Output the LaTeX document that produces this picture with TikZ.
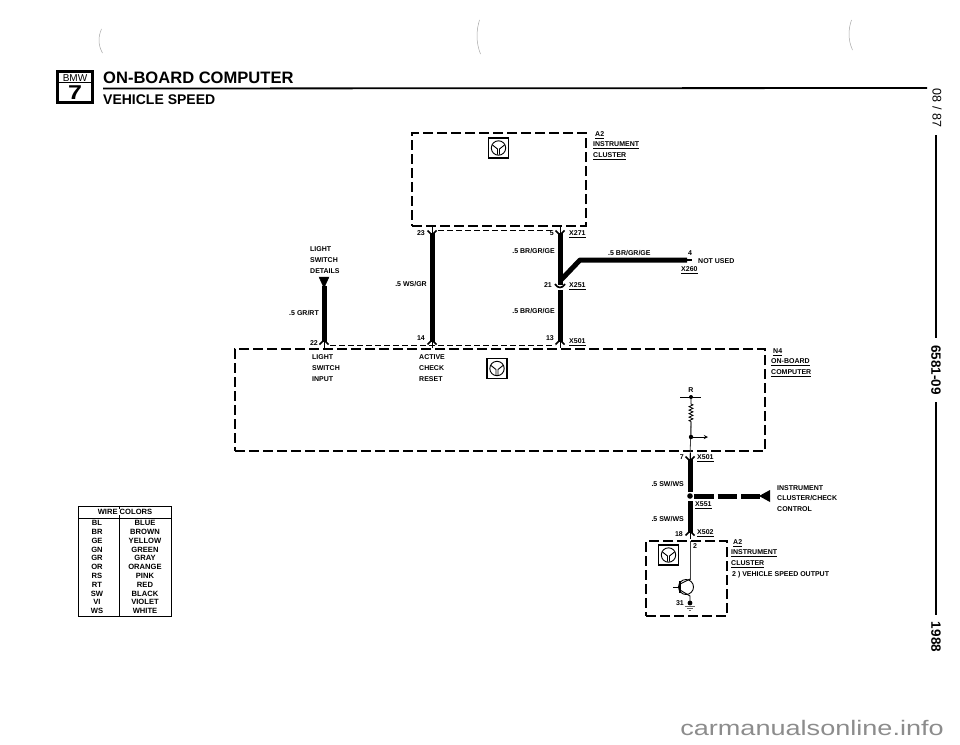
\documentclass[tikz,border=0pt]{standalone}
\usepackage{fontspec}
\setmainfont{Liberation Sans}
\usetikzlibrary{decorations.pathmorphing}
\tikzset{
	lbl/.style={inner sep=0pt, anchor=west, align=left, font=\fontsize{7}{10.7}\bfseries\selectfont},
	lblr/.style={lbl, anchor=east, align=right},
	lblc/.style={lbl, anchor=center, align=center},
	tabtxt/.style={inner sep=0pt, anchor=base, font=\fontsize{7.6}{8}\bfseries\selectfont},
	sidetxt/.style={inner sep=0pt, rotate=-90, font=\fontsize{13.5}{14}\bfseries\selectfont},
	dashbox/.style={draw, line width=1.5pt, dash pattern=on 10pt off 4pt, inner sep=0pt},
	thindash/.style={line width=0.7pt, dash pattern=on 6pt off 3pt},
	wire/.style={line width=5pt},
	thin wire/.style={line width=0.8pt, black!75},
	pinfem/.pic={
		\draw[line width=0.9pt] (0,-6) -- (0,0);
		\draw[line width=1.7pt] (-4.5,-2.5) .. controls (-2.5,0.5) .. (0,2) .. controls (2.5,0.5) .. (4.5,-2.5);
	},
	clusterico/.pic={
		\draw[line width=1.3pt] (-10,-10) rectangle (10,10);
		\draw[line width=0.9pt] (0,0) circle (7.2);
		\draw[line width=0.9pt] (-6,-3) -- (-1,1) -- (-1,6.5);
		\draw[line width=0.9pt] (6,-3) -- (1,1) -- (1,6.5);
	},
}
\begin{document}
\begin{tikzpicture}[x=1pt,y=-1pt]
	\useasboundingbox (0,0) rectangle (960,744);

	% header
	\draw[line width=3pt] (57.5,71.5) rectangle (92.5,102.5);
	\draw[line width=1pt] (59,82.5) -- (91,82.5);
	\node[inner sep=0pt, font=\fontsize{10}{10}\selectfont] (bmw) at (75,78) {BMW};
	\node[inner sep=0pt, xscale=1.25, font=\fontsize{20}{20}\bfseries\selectfont] (seven) at (75,92.5) {7};
	\node[inner sep=0pt, anchor=base west, font=\fontsize{16.55}{17}\bfseries\selectfont] (title) at (103,83.5) {ON-BOARD COMPUTER};
	\node[inner sep=0pt, anchor=base west, font=\fontsize{14}{15}\bfseries\selectfont] (subtitle) at (103,104) {VEHICLE SPEED};
	\draw[line width=1.8pt] (103,88.5) -- (927,88);

	% scan marks along the top
	\foreach \mx/\my/\mh in {100/41/12, 478/37/17, 850/35/15} {
		\draw[black!35, line width=0.5pt] (\mx+1.5,\my-\mh) .. controls (\mx-2,\my-\mh/3) and (\mx-2,\my+\mh/3) .. (\mx+2.5,\my+\mh);
	}

	% side strip
	\node[sidetxt, font=\fontsize{12.5}{13}\selectfont] (date) at (937,108) {08 / 87};
	\node[sidetxt] (code) at (936,370) {6581-09};
	\node[sidetxt] (year) at (936,637) {1988};
	\draw[line width=1.6pt] (936,135) -- (936,338);
	\draw[line width=1.6pt] (936,402) -- (936,615);

	% instrument cluster, top
	\node[dashbox, minimum width=174pt, minimum height=93pt] (a2top) at (499,179.5) {};
	\pic at (498.5,148) {clusterico};
	\node[lbl] (a2toplbl) at (595,135) {\underline{A2}};
	\node[lbl] (a2topname) at (593,150.5) {\underline{INSTRUMENT}\\\underline{CLUSTER}};

	% on-board computer
	\node[dashbox, minimum width=530pt, minimum height=102pt] (n4) at (500,400) {};
	\pic at (497,368.5) {clusterico};
	\node[lbl] (n4lbl) at (773,352) {\underline{N4}};
	\node[lbl] (n4name) at (771,367.5) {\underline{ON-BOARD}\\\underline{COMPUTER}};
	\node[lbl] (lsinput) at (312,368) {LIGHT\\SWITCH\\INPUT};
	\node[lbl] (ccreset) at (419,368) {ACTIVE\\CHECK\\RESET};

	% wire 23 - 14
	\coordinate (p23) at (432,233);
	\coordinate (p14) at (432,342);
	\draw[wire] (p23) -- (p14);
	\pic at (p23) {pinfem};
	\pic[yscale=-1] at (p14) {pinfem};
	\node[lbl, anchor=east] (n23) at (425,233) {23};
	\node[lbl, anchor=east] (n14) at (425,338) {14};
	\node[lblr] (wsgr) at (427,284) {.5 WS/GR};

	% wire 5 - 21 - 13
	\coordinate (p5) at (560,233);
	\coordinate (p21) at (560,285);
	\coordinate (p21b) at (560,290);
	\coordinate (p13) at (560,342);
	\coordinate (split) at (560,281);
	\coordinate (bend) at (580,260);
	\coordinate (p4) at (687,260);
	\coordinate (p4end) at (692,260);
	\draw[wire] (p5) -- (p21);
	\draw[wire] (p21b) -- (p13);
	\draw[wire, line join=round] (split) -- (bend) -- (p4);
	\draw[line width=1.4pt] (p4) -- (p4end);
	\pic at (p5) {pinfem};
	\pic[yscale=-1] at (p13) {pinfem};
	\draw[line width=1.7pt] (555,284) .. controls (557.5,287) .. (560,287.5) .. controls (562.5,287) .. (565,284);
	\node[lbl, anchor=east] (n5) at (554,233) {5};
	\node[lbl, anchor=east] (n21) at (552,285) {21};
	\node[lbl, anchor=east] (n13) at (554,338) {13};
	\node[lbl] (x271) at (569,234) {\underline{X271}};
	\node[lbl] (x251) at (569,286) {\underline{X251}};
	\node[lbl] (x501a) at (569,342) {\underline{X501}};
	\node[lblr] (brgrgea) at (555,251) {.5 BR/GR/GE};
	\node[lblr] (brgrgeb) at (555,311) {.5 BR/GR/GE};
	\node[lbl] (brgrgec) at (608,253) {.5 BR/GR/GE};
	\node[lbl] (n4pin) at (688,253) {4};
	\node[lbl] (notused) at (698,261) {NOT USED};
	\node[lbl] (x260) at (681,270) {\underline{X260}};

	% thin links between the connector halves
	\draw[thindash] (438,230.5) -- (555,230.5);
	\draw[thindash] (330,345) -- (555,345);

	% light switch wire
	\coordinate (lstop) at (324,286);
	\coordinate (p22) at (324,342);
	\draw[fill=black] (319,277) -- (329,277) -- (324,288) -- cycle;
	\draw[wire] (lstop) -- (p22);
	\pic[yscale=-1] at (p22) {pinfem};
	\node[lbl] (lsdetails) at (310,260) {LIGHT\\SWITCH\\DETAILS};
	\node[lblr] (grrt) at (319,313) {.5 GR/RT};
	\node[lbl, anchor=east] (n22) at (318,343) {22};

	% pull-up inside the computer
	\coordinate (rtop) at (691,397);
	\coordinate (tap) at (691,437);
	\coordinate (tapend) at (708,437);
	\coordinate (pin7) at (690,459);
	\node[lblc] (rlbl) at (691,390) {R};
	\draw[line width=0.8pt] (680,397) -- (701,397);
	\fill (rtop) circle (2);
	\draw[line width=0.8pt, decorate, decoration={zigzag, segment length=3.5pt, amplitude=2pt, pre length=7pt, post length=14pt}] (rtop) -- (tap);
	\draw[thin wire] (691,422) -- (pin7);
	\fill (tap) circle (2.2);
	\draw[-stealth, line width=0.9pt] (tap) -- (tapend);

	% speed signal wire
	\coordinate (p18) at (690,533);
	\coordinate (jn) at (690,496);
	\coordinate (ccend) at (760,496);
	\draw[wire] (pin7) -- (690,492);
	\draw[wire] (690,501) -- (p18);
	\pic at (pin7) {pinfem};
	\pic[yscale=-1] at (p18) {pinfem};
	\fill (jn) circle (2.8);
	\draw[line width=5pt, dash pattern=on 19.5pt off 4pt] (694,496) -- (ccend);
	\fill (759,496) -- (770,490) -- (770,502) -- cycle;
	\node[lbl, anchor=east] (n7) at (684,457) {7};
	\node[lbl] (x501b) at (697,458) {\underline{X501}};
	\node[lblr] (swwsa) at (684,484) {.5 SW/WS};
	\node[lbl] (x551) at (695,505) {\underline{X551}};
	\node[lblr] (swwsb) at (684,519) {.5 SW/WS};
	\node[lbl, anchor=east] (n18) at (683,534) {18};
	\node[lbl] (x502) at (697,533) {\underline{X502}};
	\node[lbl] (ccname) at (777,498.5) {INSTRUMENT\\CLUSTER/CHECK\\CONTROL};

	% instrument cluster, bottom
	\node[dashbox, minimum width=81pt, minimum height=75pt] (a2low) at (686.5,578.5) {};
	\pic at (668.5,555) {clusterico};
	\coordinate (q) at (690,580);
	\coordinate (qe) at (690,603);
	\draw[thin wire] (690,541) -- (q);
	\draw[line width=0.9pt] (686,587) circle (7.5);
	\draw[line width=0.9pt] (673,587) -- (680,587);
	\draw[line width=1.3pt] (680,581) -- (680,593);
	\draw[line width=0.9pt] (680,584) -- (690,579);
	\draw[line width=0.9pt] (680,590) -- (690,596) -- (qe);
	\fill (qe) circle (2.4);
	\draw[black!60, line width=0.7pt] (685,606) -- (695,606) (687,608) -- (693,608) (689,610) -- (691,610);
	\node[lbl, anchor=east] (n31) at (684,603) {31};
	\node[lbl] (n2) at (693,546) {2};
	\node[lbl] (a2lowlbl) at (733,543) {\underline{A2}};
	\node[lbl] (a2lowname) at (731,558.5) {\underline{INSTRUMENT}\\\underline{CLUSTER}};
	\node[lbl] (vsout) at (732,575) {2 ) VEHICLE SPEED OUTPUT};

	% wire colour table
	\draw[line width=0.9pt] (78,506) rectangle (171,616);
	\draw[line width=0.9pt] (78,518) -- (171,518);
	\draw[line width=0.8pt] (119,506) -- (119,616);
	\node[tabtxt, fill=white, inner xsep=1pt] (tabhead) at (125,514.7) {WIRE COLORS};
	\draw[line width=0.8pt] (119,506) -- (119,508);
	\foreach \wcode/\wname [count=\i] in {BL/BLUE, BR/BROWN, GE/YELLOW, GN/GREEN, GR/GRAY, OR/ORANGE, RS/PINK, RT/RED, SW/BLACK, VI/VIOLET, WS/WHITE} {
		\pgfmathsetmacro{\rowy}{525.7+(\i-1)*8.8}
		\node[tabtxt] (code\i) at (97,\rowy) {\wcode};
		\node[tabtxt] (name\i) at (145,\rowy) {\wname};
	}

	% site mark
	\node[inner sep=0pt, anchor=base west, text=black!45, xscale=1.29, font=\fontsize{21}{21}\selectfont] (site) at (680,735) {carmanualsonline.info};
\end{tikzpicture}
\end{document}
